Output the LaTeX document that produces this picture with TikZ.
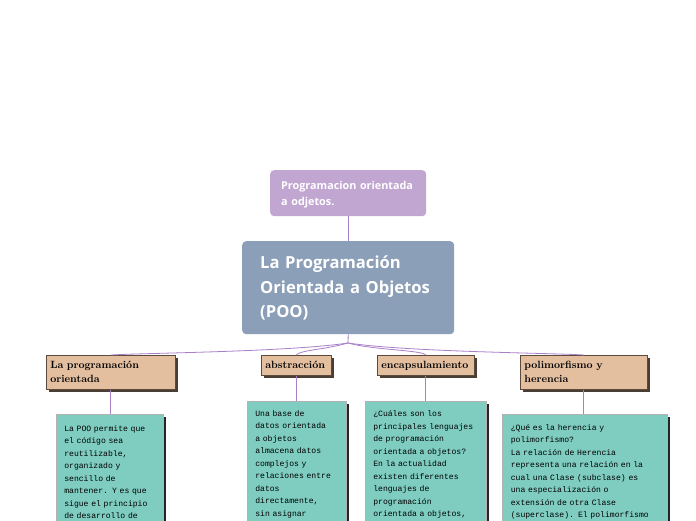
\documentclass[tikz,border=0pt]{standalone}
\usepackage{fontspec}
\newfontfamily\latof{Open Sans}
\setmonofont{Liberation Mono}
\usetikzlibrary{shadows,calc}
\definecolor{purpc}{HTML}{C2A6D2}
\definecolor{mainc}{HTML}{8C9FB8}
\definecolor{tanc}{HTML}{E3BFA0}
\definecolor{tanedge}{HTML}{5C4A3C}
\definecolor{tanshadow}{HTML}{4A3E34}
\definecolor{tealc}{HTML}{7FCDC1}
\definecolor{linec}{HTML}{A97FC8}
\tikzset{
  conn/.style={draw=linec, line width=0.8pt},
  topbox/.style={fill=purpc, rounded corners=4pt, anchor=north west, align=left,
    text=white, inner xsep=11pt, inner ysep=11pt, text height=8pt,
    font=\latof\bfseries\fontsize{10.8}{16}\selectfont},
  mainbox/.style={fill=mainc, rounded corners=4pt, anchor=north west, align=left,
    text=white, inner xsep=18pt, inner ysep=14pt, text height=13.3pt,
    font=\latof\bfseries\fontsize{16.6}{24.5}\selectfont},
  tanbox/.style={fill=tanc, draw=tanedge, line width=0.7pt,
    drop shadow={shadow xshift=2.5pt, shadow yshift=-2.5pt, fill=tanshadow, opacity=1},
    anchor=north west, align=left, inner xsep=4pt, inner ysep=5pt, text height=8pt,
    font=\bfseries\fontsize{10.5}{14.5}\selectfont},
  tealbox/.style={fill=tealc, draw=black!30, line width=0.6pt,
    drop shadow={shadow xshift=2.5pt, shadow yshift=-2.5pt, fill=black!85, opacity=1},
    anchor=north west, align=left, inner xsep=8pt, text height=7pt, text depth=300pt,
    font=\ttfamily\fontsize{8.1}{12.5}\selectfont},
}
\begin{document}
\begin{tikzpicture}[x=1pt,y=-1pt]
\clip (0,0) rectangle (696,520);
\fill[white] (0,0) rectangle (696,520);

\node[topbox, text width=134pt, text depth=16pt] (top) at (270,170)
  {Programacion orientada\\a odjetos.};
\node[mainbox, text width=180pt, inner xsep=16pt, text depth=51.7pt] (main) at (242,241)
  {\hspace*{2pt}La Programación\\\hspace*{2pt}Orientada a Objetos\\\hspace*{2pt}(POO)};

\node[tanbox, text width=121pt, text depth=16pt] (t1) at (46,355) {La programación\\orientada};
\node[tanbox, text width=62pt, text depth=2pt] (t2) at (261,355) {abstracción};
\node[tanbox, text width=89pt, text depth=2pt] (t3) at (377,355) {encapsulamiento};
\node[tanbox, text width=119pt, text depth=16pt] (t4) at (520,355) {polimorfismo y\\herencia};

\node[tealbox, text width=91pt, inner ysep=10pt] (c1) at (56,414)
  {La POO permite que\\el código sea\\reutilizable,\\organizado y\\sencillo de\\mantener. Y es que\\sigue el principio\\de desarrollo de};
\node[tealbox, text width=83pt, inner ysep=8pt] (c2) at (247,401)
  {Una base de\\datos orientada\\a objetos\\almacena datos\\complejos y\\relaciones entre\\datos\\directamente,\\sin asignar};
\node[tealbox, text width=105pt, inner ysep=8.5pt] (c3) at (365,401)
  {¿Cuáles son los\\principales lenguajes\\de programación\\orientada a objetos?\\En la actualidad\\existen diferentes\\lenguajes de\\programación\\orientada a objetos,};
\node[tealbox, text width=148pt, inner xsep=8.5pt, inner ysep=9pt] (c4) at (502,414)
  {¿Qué es la herencia y\\polimorfismo?\\La relación de Herencia\\representa una relación en la\\cual una Clase (subclase) es\\una especialización o\\extensión de otra Clase\\(superclase). El polimorfismo};

\coordinate (br) at (348,343);
\draw[conn] (top.south) -- (main.north);
\draw[conn] (main.south) -- (br);
\draw[conn] (br) .. controls ($(br)+(-60,9)$) and ($(t1.north)+(30,-2)$) .. (t1.north);
\draw[conn] (br) .. controls ($(br)+(-25,7)$) and ($(t2.north)+(4,-5)$) .. (t2.north);
\draw[conn] (br) .. controls ($(br)+(25,7)$) and ($(t3.north)+(-4,-5)$) .. (t3.north);
\draw[conn] (br) .. controls ($(br)+(60,9)$) and ($(t4.north)+(-30,-2)$) .. (t4.north);

\draw[conn] (t1.south) -- (t1.south |- c1.north);
\draw[conn] (t2.south) -- (t2.south |- c2.north);
\draw[conn] (t3.south) -- (t3.south |- c3.north);
\draw[conn] (t4.south) -- (t4.south |- c4.north);
\end{tikzpicture}
\end{document}
